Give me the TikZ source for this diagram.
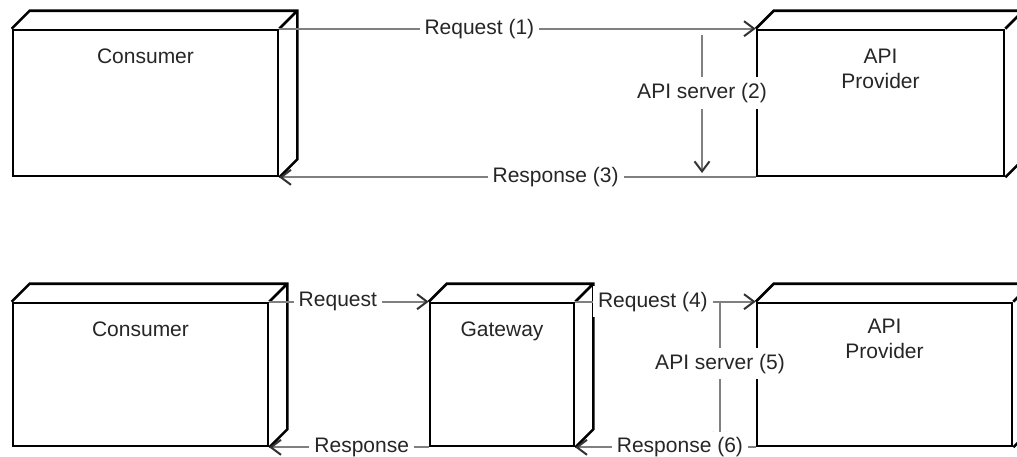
\documentclass[tikz,border=0pt]{standalone}
\usepackage{fontspec}
\setmainfont{Liberation Sans}
\usetikzlibrary{arrows.meta,calc}

\tikzset{
  box/.style={draw=black, line width=2.6pt, fill=white, rectangle, inner sep=0pt},
  boxtext/.style={text=black!85, align=center, font=\fontsize{21}{25}\selectfont, anchor=base, inner sep=0pt},
  conn/.style={draw=black!50, line width=2pt,
    -{Straight Barb[length=10pt,width=15pt,color=black!80]}},
  lbl/.style={fill=white, text=black!85, font=\fontsize{21}{25}\selectfont,
    inner xsep=5pt, inner ysep=6pt},
}

\begin{document}
\begin{tikzpicture}[x=1pt,y=-1pt]
  \useasboundingbox (0,0) rectangle (1017,456);

  % upper row: direct call
  \node[box, minimum width=265pt, minimum height=146pt,
        label={[boxtext, yshift=-35pt]north:Consumer}] (c1) at (145.5,103) {};
  \node[box, minimum width=247pt, minimum height=146pt,
        label={[boxtext, yshift=-60pt]north:API\\Provider}] (p1) at (880.5,103) {};

  % lower row: call through a gateway
  \node[box, minimum width=255pt, minimum height=143pt,
        label={[boxtext, yshift=-35pt]north:Consumer}] (c2) at (140.5,374.5) {};
  \node[box, minimum width=144pt, minimum height=143pt,
        label={[boxtext, yshift=-35pt]north:Gateway}] (g2) at (502,374.5) {};
  \node[box, minimum width=255pt, minimum height=143pt,
        label={[boxtext, yshift=-57pt]north:API\\Provider}] (p2) at (884.5,374.5) {};

  % depth faces of the boxes
  \foreach \n in {c1,p1,c2,g2,p2}
    \draw[black, line width=2.6pt]
      (\n.north west) -- ++(18,-18) -| ([shift={(18,-18)}]\n.south east) -- (\n.south east)
      ([shift={(18,-18)}]\n.north east) -- (\n.north east);

  % upper row connectors
  \draw[conn] (c1.north east) -- node[lbl, pos=0.42] (r1) {Request (1)} (p1.north west);
  \draw[conn] (p1.south west) -- node[lbl, pos=0.42] (r3) {Response (3)} (c1.south east);
  \coordinate (s1a) at (702,35);
  \coordinate (s1b) at (702,173);
  \draw[conn] (s1a) -- node[lbl, pos=0.42] (r2) {API server (2)} (s1b);

  % lower row connectors
  \draw[conn] (c2.north east) -- node[lbl, pos=0.43] (q1) {Request} (g2.north west);
  \draw[conn] (g2.south west) -- node[lbl, pos=0.42] (q2) {Response~} (c2.south east);
  \coordinate (s2a) at (720,303);
  \coordinate (s2b) at (720,444);
  \draw[conn] (s2a) -- node[lbl, pos=0.43] (r5) {API server (5)} (s2b);
  \draw[conn] (g2.north east) -- node[lbl, pos=0.43] (r4) {Request (4)} (p2.north west);
  \draw[conn] (p2.south west) -- node[lbl, pos=0.42] (r6) {Response (6)} (g2.south east);
\end{tikzpicture}
\end{document}
